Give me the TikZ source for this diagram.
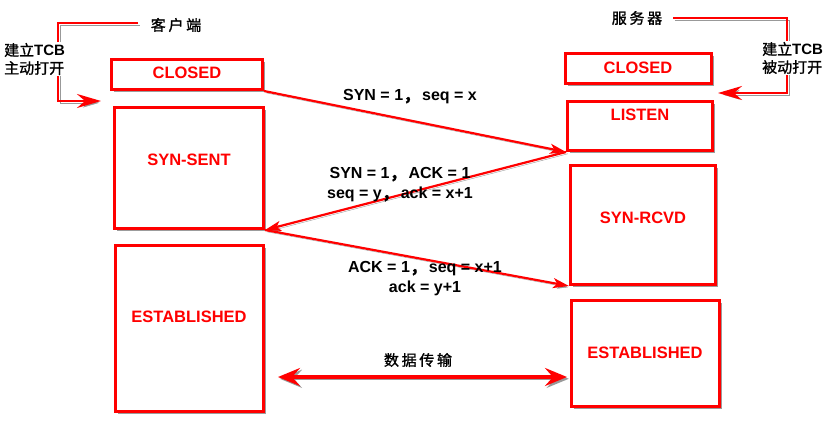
\documentclass[tikz,border=0pt]{standalone}
\usepackage{fontspec}
\setmainfont{Liberation Sans}
\newfontfamily\cjk[FakeBold=1.2]{Noto Sans CJK SC}
\newfontfamily\cjkw[LetterSpace=18,FakeBold=1.2]{Noto Sans CJK SC}
\usetikzlibrary{arrows.meta,shadows}
\newcommand\fwcomma{{\cjk ，}\hspace{3pt}}
\begin{document}
\begin{tikzpicture}[x=1pt,y=-1pt,
  box/.style={draw=red, line width=3pt, fill=white, rectangle, inner sep=0pt,
    drop shadow={shadow xshift=2.5pt, shadow yshift=-2.5pt, fill=black!55, opacity=.7}},
  st/.style={text=red, font=\fontsize{16.5}{18}\selectfont\bfseries, inner sep=0pt},
  lbl/.style={font=\fontsize{16}{20}\selectfont\bfseries, align=center, inner sep=0pt},
  side/.style={font=\fontsize{15}{18}\selectfont, align=left, fill=white, inner sep=1pt},
  head/.style={font=\fontsize{15}{18}\selectfont\cjkw, inner sep=0pt},
  shd/.style={preaction={draw=black!40, transform canvas={shift={(1.8pt,-1.8pt)}}}},
  hs/.style={draw=red, line width=2.2pt, -{Stealth[length=16pt,width=10pt,inset=4pt]}, shd},
  brk/.style={draw=red, line width=2.5pt, -{Stealth[length=24pt,width=14pt,inset=8pt]}, shd},
  data/.style={draw=red, line width=4pt, {Stealth[length=22pt,width=18pt,inset=8pt]}-{Stealth[length=22pt,width=18pt,inset=8pt]}, shd}
]
\useasboundingbox[fill=white] (0,0) rectangle (837,425);

% bracket lines
\coordinate (c1) at (138,23);
\coordinate (c2) at (58,23);
\coordinate (c3) at (58,101);
\coordinate (c4) at (101,101);
\coordinate (s1) at (673,18);
\coordinate (s2) at (787,18);
\coordinate (s3) at (787,93);
\coordinate (s4) at (718,93);
\draw[brk] (c1) -- (c2) -- (c3) -- (c4);
\draw[brk] (s1) -- (s2) -- (s3) -- (s4);

\node[head] (kehu) at (176,25) {客户端};
\node[head] (fuwu) at (637,18) {服务器};
\node[side, anchor=west] (zd) at (3,59) {{\cjk 建立}\textbf{TCB}\\{\cjk 主动打开}};
\node[side, anchor=west] (bd) at (761,58) {{\cjk 建立}\textbf{TCB}\\{\cjk 被动打开}};

% state boxes
\node[box, minimum width=151pt, minimum height=30pt] (closedC) at (187,74.5) {};
\node[box, minimum width=149pt, minimum height=121pt] (synsent) at (189,168) {};
\node[box, minimum width=148pt, minimum height=166pt] (estC) at (189.5,328.5) {};
\node[box, minimum width=146pt, minimum height=30pt] (closedS) at (638.5,68.5) {};
\node[box, minimum width=145pt, minimum height=49pt] (listen) at (640,126) {};
\node[box, minimum width=145pt, minimum height=119pt] (synrcvd) at (643,225) {};
\node[box, minimum width=148pt, minimum height=106pt] (estS) at (645.5,353.5) {};

\node[st] (tClosedC) at (187,73) {CLOSED};
\node[st] (tSynSent) at (189,160) {SYN-SENT};
\node[st] (tEstC) at (189,317) {ESTABLISHED};
\node[st] (tClosedS) at (638,68) {CLOSED};
\node[st] (tListen) at (640,115) {LISTEN};
\node[st] (tSynRcvd) at (643,218) {SYN-RCVD};
\node[st] (tEstS) at (645,353) {ESTABLISHED};

% handshake
\draw[hs] (closedC.south east) -- (listen.south west);
\draw[hs] (listen.south west) -- (synsent.south east);
\draw[hs] (synsent.south east) -- (synrcvd.south west);

\node[lbl] (l1) at (410,97) {SYN = 1\fwcomma seq = x};
\node[lbl] (l2) at (400,185) {SYN = 1\fwcomma ACK = 1\\seq = y\fwcomma ack = x+1};
\node[lbl] (l3) at (425,279) {ACK = 1\fwcomma seq = x+1\\ack = y+1};

% data transfer
\coordinate (dl) at (278,377);
\coordinate (dr) at (567,377);
\draw[data] (dl) -- (dr);
\node[head] (sj) at (418,360) {数据传输};
\end{tikzpicture}
\end{document}
